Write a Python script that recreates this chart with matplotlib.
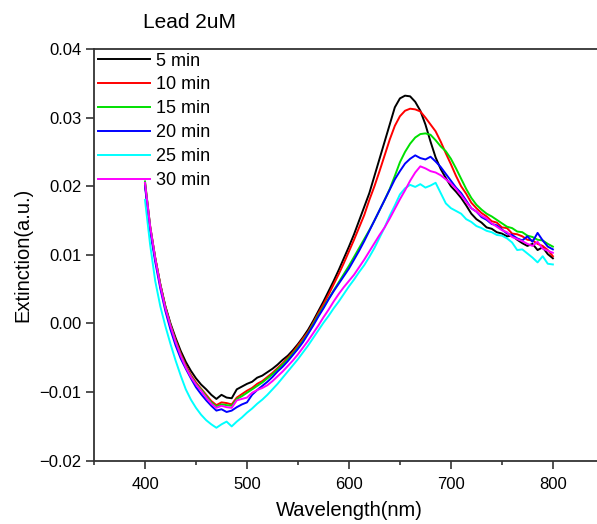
import numpy as np
import matplotlib
matplotlib.use("Agg")
import matplotlib.pyplot as plt
from matplotlib.ticker import MultipleLocator, FuncFormatter

plt.rcParams['font.family'] = ['Liberation Sans', 'DejaVu Sans']

# wavelength grid (nm), 5 nm steps from 400 to 800
wavelength = np.arange(400, 801, 5)

labels = ["5 min", "10 min", "15 min", "20 min", "25 min", "30 min"]
colors = ["#000000", "#ff0000", "#00e000", "#0000ff", "#00ffff", "#ff00ff"]

ext_5 = [
    0.0203, 0.0140, 0.0095, 0.0057, 0.0025, 0.0000, -0.0021, -0.0040, -0.0056, -0.0069,
    -0.0080, -0.0089, -0.0096, -0.0104, -0.0110, -0.0104, -0.0108, -0.0109, -0.0096, -0.0092,
    -0.0088, -0.0085, -0.0079, -0.0076, -0.0071, -0.0066, -0.0060, -0.0053, -0.0047, -0.0039,
    -0.0030, -0.0020, -0.0009, 0.0004, 0.0018, 0.0032, 0.0047, 0.0062, 0.0078, 0.0095,
    0.0112, 0.0130, 0.0150, 0.0170, 0.0190, 0.0215, 0.0240, 0.0265, 0.0290, 0.0315,
    0.0328, 0.0332, 0.0331, 0.0323, 0.0310, 0.0290, 0.0265, 0.0242, 0.0225, 0.0212,
    0.0200, 0.0192, 0.0183, 0.0172, 0.0160, 0.0152, 0.0147, 0.0140, 0.0138, 0.0133,
    0.0131, 0.0127, 0.0128, 0.0122, 0.0117, 0.0113, 0.0116, 0.0107, 0.0111, 0.0101,
    0.0095]
ext_10 = [
    0.0205, 0.0142, 0.0096, 0.0057, 0.0024, -0.0002, -0.0024, -0.0044, -0.0061, -0.0075,
    -0.0086, -0.0095, -0.0104, -0.0113, -0.0119, -0.0115, -0.0116, -0.0118, -0.0108, -0.0103,
    -0.0098, -0.0094, -0.0088, -0.0084, -0.0078, -0.0072, -0.0065, -0.0058, -0.0050, -0.0042,
    -0.0032, -0.0022, -0.0012, 0.0001, 0.0015, 0.0028, 0.0042, 0.0057, 0.0072, 0.0088,
    0.0105, 0.0122, 0.0140, 0.0158, 0.0180, 0.0200, 0.0222, 0.0245, 0.0268, 0.0288,
    0.0302, 0.0310, 0.0313, 0.0312, 0.0309, 0.0300, 0.0290, 0.0280, 0.0265, 0.0248,
    0.0232, 0.0215, 0.0200, 0.0189, 0.0176, 0.0168, 0.0161, 0.0156, 0.0149, 0.0147,
    0.0140, 0.0139, 0.0131, 0.0130, 0.0127, 0.0122, 0.0121, 0.0116, 0.0113, 0.0107,
    0.0098]
ext_15 = [
    0.0207, 0.0142, 0.0095, 0.0056, 0.0023, -0.0003, -0.0026, -0.0046, -0.0063, -0.0077,
    -0.0088, -0.0096, -0.0106, -0.0115, -0.0121, -0.0118, -0.0119, -0.0120, -0.0110, -0.0106,
    -0.0101, -0.0096, -0.0091, -0.0086, -0.0080, -0.0074, -0.0067, -0.0060, -0.0052, -0.0044,
    -0.0035, -0.0025, -0.0014, -0.0001, 0.0012, 0.0024, 0.0036, 0.0048, 0.0060, 0.0072,
    0.0084, 0.0097, 0.0110, 0.0123, 0.0136, 0.0150, 0.0165, 0.0180, 0.0196, 0.0215,
    0.0235, 0.0250, 0.0262, 0.0271, 0.0276, 0.0277, 0.0275, 0.0267, 0.0258, 0.0251,
    0.0240, 0.0226, 0.0211, 0.0196, 0.0183, 0.0173, 0.0166, 0.0160, 0.0156, 0.0151,
    0.0146, 0.0141, 0.0139, 0.0134, 0.0133, 0.0128, 0.0126, 0.0122, 0.0121, 0.0116,
    0.0112]
ext_20 = [
    0.0200, 0.0136, 0.0090, 0.0051, 0.0018, -0.0009, -0.0032, -0.0051, -0.0066, -0.0080,
    -0.0093, -0.0103, -0.0112, -0.0120, -0.0127, -0.0125, -0.0129, -0.0127, -0.0122, -0.0118,
    -0.0115, -0.0104, -0.0097, -0.0091, -0.0085, -0.0078, -0.0070, -0.0063, -0.0055, -0.0046,
    -0.0037, -0.0027, -0.0015, -0.0003, 0.0010, 0.0022, 0.0035, 0.0047, 0.0058, 0.0069,
    0.0080, 0.0093, 0.0106, 0.0120, 0.0135, 0.0150, 0.0165, 0.0180, 0.0195, 0.0210,
    0.0222, 0.0233, 0.0240, 0.0245, 0.0241, 0.0239, 0.0243, 0.0236, 0.0228, 0.0218,
    0.0208, 0.0198, 0.0190, 0.0179, 0.0168, 0.0163, 0.0155, 0.0151, 0.0145, 0.0143,
    0.0137, 0.0131, 0.0129, 0.0124, 0.0121, 0.0127, 0.0119, 0.0132, 0.0121, 0.0112,
    0.0108]
ext_25 = [
    0.0180, 0.0115, 0.0062, 0.0025, -0.0004, -0.0030, -0.0054, -0.0076, -0.0096, -0.0111,
    -0.0123, -0.0133, -0.0141, -0.0147, -0.0152, -0.0147, -0.0143, -0.0150, -0.0143, -0.0137,
    -0.0130, -0.0124, -0.0117, -0.0111, -0.0104, -0.0096, -0.0088, -0.0079, -0.0070, -0.0061,
    -0.0052, -0.0042, -0.0032, -0.0021, -0.0010, 0.0001, 0.0011, 0.0022, 0.0032, 0.0043,
    0.0054, 0.0064, 0.0075, 0.0085, 0.0097, 0.0110, 0.0125, 0.0140, 0.0157, 0.0172,
    0.0188, 0.0197, 0.0202, 0.0199, 0.0203, 0.0198, 0.0201, 0.0205, 0.0190, 0.0175,
    0.0168, 0.0164, 0.0160, 0.0152, 0.0148, 0.0142, 0.0139, 0.0135, 0.0133, 0.0129,
    0.0128, 0.0124, 0.0118, 0.0107, 0.0108, 0.0102, 0.0096, 0.0089, 0.0098, 0.0087,
    0.0086]
ext_30 = [
    0.0205, 0.0142, 0.0095, 0.0055, 0.0022, -0.0004, -0.0027, -0.0047, -0.0064, -0.0078,
    -0.0089, -0.0098, -0.0108, -0.0117, -0.0123, -0.0120, -0.0122, -0.0123, -0.0112, -0.0110,
    -0.0108, -0.0101, -0.0097, -0.0094, -0.0090, -0.0084, -0.0077, -0.0070, -0.0062, -0.0054,
    -0.0045, -0.0035, -0.0025, -0.0014, -0.0003, 0.0009, 0.0020, 0.0032, 0.0043, 0.0053,
    0.0062, 0.0071, 0.0082, 0.0093, 0.0105, 0.0117, 0.0129, 0.0140, 0.0153, 0.0167,
    0.0181, 0.0194, 0.0208, 0.0220, 0.0229, 0.0226, 0.0222, 0.0220, 0.0216, 0.0210,
    0.0204, 0.0196, 0.0187, 0.0177, 0.0168, 0.0163, 0.0157, 0.0153, 0.0146, 0.0141,
    0.0136, 0.0133, 0.0126, 0.0123, 0.0120, 0.0116, 0.0113, 0.0119, 0.0109, 0.0106,
    0.0103]

series = [ext_5, ext_10, ext_15, ext_20, ext_25, ext_30]

fig = plt.figure(figsize=(5.97, 5.24), dpi=100)
# right spine sits just past the image edge in the original
ax = fig.add_axes([0.1575, 0.1208, 0.854, 0.7857])

for y, lab, c in zip(series, labels, colors):
    ax.plot(wavelength, y, color=c, lw=1.4, label=lab)

ax.set_xlim(350, 850)
ax.set_ylim(-0.02, 0.04)
ax.xaxis.set_major_locator(MultipleLocator(100))
ax.xaxis.set_minor_locator(MultipleLocator(50))
ax.yaxis.set_major_locator(MultipleLocator(0.01))
ax.yaxis.set_major_formatter(FuncFormatter(
    lambda v, p: f"{round(v, 2):.2f}".replace("-", "\u2212")))

for s in ax.spines.values():
    s.set_linewidth(1.3)
    s.set_color("#333333")
ax.tick_params(axis="both", which="major", direction="out", length=6, width=1.2,
               labelsize=12, color="#333333")
ax.tick_params(axis="x", which="minor", direction="out", length=3, width=1.2,
               color="#333333")
ax.tick_params(axis="x", pad=6)
ax.tick_params(axis="y", pad=3)

ax.set_xlabel("Wavelength(nm)", fontsize=14.5, labelpad=6)
ax.set_ylabel("Extinction(a.u.)", fontsize=14.5, labelpad=5)

ax.legend(loc="upper left", bbox_to_anchor=(0.0, 1.0), frameon=False,
          fontsize=13, handlelength=2.9, handletextpad=0.35, labelspacing=0.38,
          borderaxespad=0.1, borderpad=0.1)

fig.text(0.2395, 0.958, "Lead 2uM", fontsize=15, ha="left", va="center")

fig.savefig("out.png", dpi=100)
